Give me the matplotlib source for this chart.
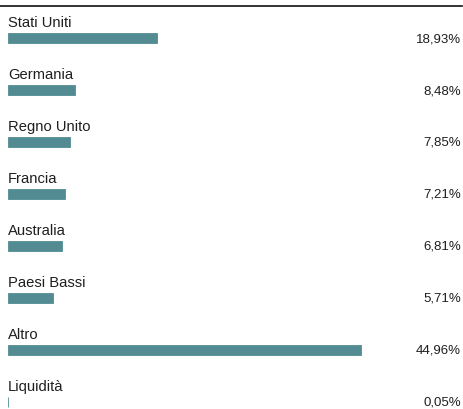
import matplotlib.pyplot as plt

# ---- Data ----
countries = ["Stati Uniti", "Germania", "Regno Unito", "Francia",
             "Australia", "Paesi Bassi", "Altro", "Liquidità"]
weights = [18.93, 8.48, 7.85, 7.21, 6.81, 5.71, 44.96, 0.05]
value_labels = ["18,93%", "8,48%", "7,85%", "7,21%", "6,81%", "5,71%", "44,96%", "0,05%"]

BAR_COLOR = "#528c92"
TEXT_COLOR = "#1e1e1e"
plt.rcParams["font.family"] = ["Liberation Sans", "DejaVu Sans"]

W, H = 464, 410
PX_PER_PCT = 7.86
ROW = 52.0
FIRST_CENTER = 39.0
TOP = 6.5

fig = plt.figure(figsize=(W / 100, H / 100), dpi=100)
ax_left, ax_right = 0, 462
ax = fig.add_axes([ax_left / W, 0, (ax_right - ax_left) / W, (H - TOP) / H])

ypos = list(range(len(countries)))
# thin edge keeps the tiny 0,05% bar visible as a hairline
ax.barh(ypos, weights, height=10 / ROW, color=BAR_COLOR, left=0, align="center",
        edgecolor=BAR_COLOR, linewidth=0.6)

ax.set_xlim(-8 / PX_PER_PCT, (ax_right - 8) / PX_PER_PCT)
ax.set_ylim((H - FIRST_CENTER) / ROW, -(FIRST_CENTER - TOP) / ROW)

for i, (name, lab) in enumerate(zip(countries, value_labels)):
    ax.text(0, i - 12 / ROW, name, ha="left", va="baseline",
            fontsize=10.6, color=TEXT_COLOR)
    ax.text(0.998, i, lab, transform=ax.get_yaxis_transform(),
            ha="right", va="center", fontsize=9.5, color=TEXT_COLOR)

for side in ["left", "right", "bottom"]:
    ax.spines[side].set_visible(False)
ax.spines["top"].set_linewidth(1.2)
ax.spines["top"].set_color("#111111")
ax.set_xticks([])
ax.set_yticks([])

fig.savefig("out.png", dpi=100)
